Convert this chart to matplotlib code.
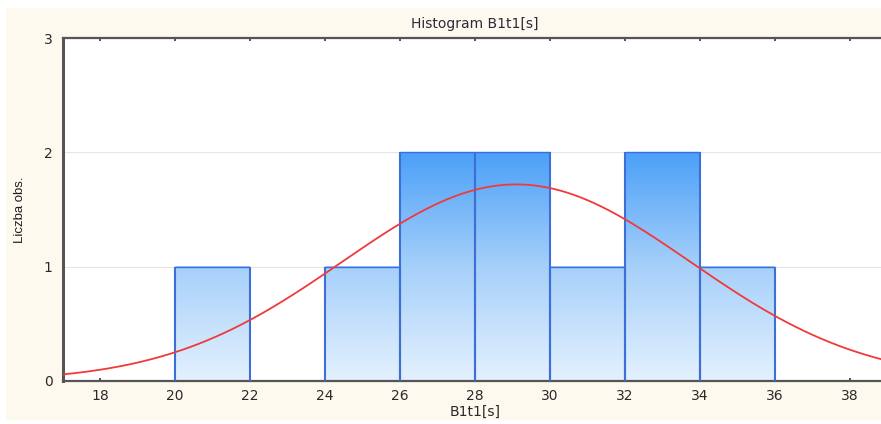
import numpy as np
import matplotlib
matplotlib.use("Agg")
import matplotlib.pyplot as plt
from matplotlib.colors import LinearSegmentedColormap

plt.rcParams['font.family'] = ['DejaVu Sans']

# Histogram bins (left edges) and counts
bin_left = [20, 22, 24, 26, 28, 30, 32, 34]
bin_width = 2
counts = [1, 0, 1, 2, 2, 1, 2, 1]

# Fitted normal curve parameters
n_obs = 10
mean_val = 29.1
std_val = 4.64

x_ticks = [18, 20, 22, 24, 26, 28, 30, 32, 34, 36, 38]
y_ticks = [0, 1, 2, 3]

cream = '#FEF9EE'
fig = plt.figure(figsize=(8.81, 4.24), dpi=100)
fig.patch.set_facecolor('white')
# cream panel behind the plot
fig.patches.append(plt.Rectangle((6 / 881, 4 / 424), 1, 412 / 424,
                                 transform=fig.transFigure, facecolor=cream,
                                 edgecolor='none', zorder=-10))

ax = fig.add_axes([62.5 / 881, (424 - 381) / 424, (887.5 - 62.5) / 881, (381 - 38) / 424])
ax.set_facecolor('white')
ax.set_xlim(17, 39)
ax.set_ylim(0, 3)

ax.yaxis.grid(True, color='#E6E6E6', linewidth=0.8, zorder=0)
ax.set_axisbelow(True)

edge = '#3C6FD8'
cmap = LinearSegmentedColormap.from_list('bargrad', ['#E4F1FE', '#A6D0FA', '#4BA0F8'])
grad = np.linspace(0, 1, 256).reshape(-1, 1)
for left, c in zip(bin_left, counts):
    if c <= 0:
        continue
    sub = grad[: int(round(256 * c / 2))] if c < 2 else grad
    ax.imshow(sub, cmap=cmap, vmin=0, vmax=1, origin='lower', aspect='auto',
              extent=(left, left + bin_width, 0, c), zorder=2, interpolation='bilinear')
    # vertical sides slightly heavier than the top edge
    ax.vlines([left, left + bin_width], 0, c, colors=edge, linewidth=1.5, zorder=3)
    ax.hlines(c, left, left + bin_width, colors=edge, linewidth=1.0, zorder=3)

xs = np.linspace(17, 39, 400)
ys = n_obs * bin_width * np.exp(-(xs - mean_val) ** 2 / (2 * std_val ** 2)) / (std_val * np.sqrt(2 * np.pi))
ax.plot(xs, ys, color='#F03A3A', linewidth=1.3, zorder=4)

ax.set_xlim(17, 39)
ax.set_ylim(0, 3)
ax.set_xticks(x_ticks)
ax.set_yticks(y_ticks)
ax.tick_params(axis='both', direction='in', length=2.5, width=1.2, color='#333333',
               labelsize=10, labelcolor='#2A2A2A', top=True)
ax.tick_params(axis='x', pad=6)
ax.tick_params(axis='y', pad=7, length=0)

ax.spines['left'].set_linewidth(2.2)
ax.spines['bottom'].set_linewidth(1.6)
ax.spines['top'].set_linewidth(1.6)
for side in ['left', 'bottom', 'top']:
    ax.spines[side].set_color('#555555')
ax.spines['right'].set_visible(False)

ax.set_title('Histogram B1t1[s]', fontsize=10, color='#2A2A3A', pad=7)
ax.set_xlabel('B1t1[s]', fontsize=10, color='#2A2A2A', labelpad=1)
ax.set_ylabel('Liczba obs.', fontsize=9.5, color='#1E1E1E', labelpad=13,
              family=['Liberation Sans', 'DejaVu Sans'])

fig.savefig('out.png', dpi=100, facecolor=fig.get_facecolor())
